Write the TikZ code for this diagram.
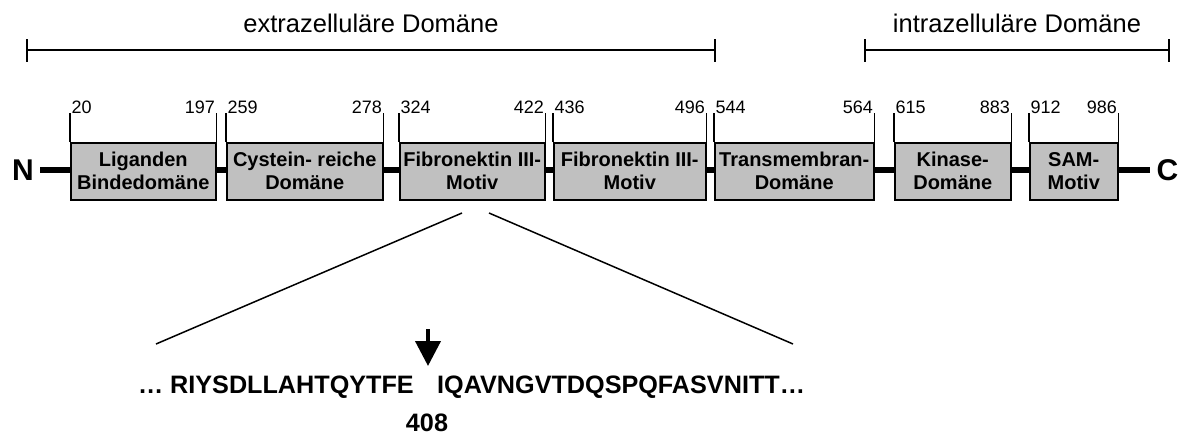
\documentclass[tikz,border=0pt]{standalone}
\usepackage{fontspec}
\setmainfont{Liberation Sans}
\usetikzlibrary{arrows.meta}
\definecolor{domfill}{RGB}{192,192,192}
\begin{document}
\begin{tikzpicture}[x=1pt,y=-1pt,
  dombox/.style={draw=black,line width=1.5pt,fill=domfill,inner sep=0pt,
    minimum height=57pt,anchor=north west,align=center,
    font=\fontsize{20}{23}\selectfont\bfseries},
  posnum/.style={inner sep=0pt,font=\fontsize{18}{20}\selectfont},
  tickline/.style={line width=1.5pt},
  region/.style={inner sep=0pt,font=\fontsize{25.5}{28}\selectfont},
  seqtext/.style={inner sep=0pt,font=\fontsize{25.2}{28}\selectfont\bfseries},
  endlabel/.style={inner sep=0pt,font=\fontsize{30}{32}\selectfont\bfseries}]
\useasboundingbox (0,0) rectangle (1182,434);

% domain brackets
\node[region,anchor=base] (extra) at (371,32) {extrazelluläre Domäne};
\node[region,anchor=base] (intra) at (1017,32) {intrazelluläre Domäne};
\coordinate (e1) at (27,50);
\coordinate (e2) at (715,50);
\coordinate (i1) at (865,50);
\coordinate (i2) at (1169,50);
\draw[line width=2.5pt] (e1) -- (e2);
\draw[line width=2.5pt] (i1) -- (i2);
\foreach \p in {e1,e2,i1,i2}
  \draw[tickline] ([yshift=-11.5]\p) -- ([yshift=11.5]\p);

% termini and backbone
\node[endlabel] (N) at (23,170) {N};
\node[endlabel] (C) at (1167.5,170) {C};
\draw[line width=6pt] ([xshift=6]N.east) -- ([xshift=-6]C.west);

% domains
\node[dombox,minimum width=145pt] (b1) at (70,142) {Liganden\\Bindedomäne};
\node[dombox,minimum width=156pt] (b2) at (226,142) {Cystein- reiche\\Domäne};
\node[dombox,minimum width=145pt] (b3) at (399,142) {Fibronektin III-\\Motiv};
\node[dombox,minimum width=152pt] (b4) at (553,142) {Fibronektin III-\\Motiv};
\node[dombox,minimum width=159pt] (b5) at (714,142) {Transmembran-\\Domäne};
\node[dombox,minimum width=116pt] (b6) at (894,142) {Kinase-\\Domäne};
\node[dombox,minimum width=88pt]  (b7) at (1029,142) {SAM-\\Motiv};

% boundary ticks and residue numbers
\foreach \b/\s/\e in {b1/20/197,b2/259/278,b3/324/422,b4/436/496,b5/544/564,b6/615/883,b7/912/986}{
  \draw[tickline] (\b.north west) -- ++(0,-29) coordinate (\b-tl);
  \draw[tickline] (\b.north east) -- ++(0,-29) coordinate (\b-tr);
  \node[posnum,anchor=base west] (\b-start) at ([xshift=1.5]\b-tl) {\s};
  \node[posnum,anchor=base east] (\b-end) at ([xshift=-1.5]\b-tr) {\e};
}

% sequence detail of the first fibronectin motif
\node[seqtext,anchor=base east] (seqL) at (414,393) {… RIYSDLLAHTQYTFE};
\node[seqtext,anchor=base west] (seqR) at (437,393) {IQAVNGVTDQSPQFASVNITT…};
\node[seqtext,anchor=base] (site) at (427,431) {408};
\coordinate (zl1) at (462,213);
\coordinate (zr1) at (489,213);
\coordinate (zl2) at (156,344);
\coordinate (zr2) at (793,344);
\draw[line width=1.5pt] (zl1) -- (zl2);
\draw[line width=1.5pt] (zr1) -- (zr2);
\coordinate (cut) at (428,329);
\draw[line width=4pt,-{Triangle[width=25pt,length=25pt]}] (cut) -- (cut |- 0,366);
\end{tikzpicture}
\end{document}
